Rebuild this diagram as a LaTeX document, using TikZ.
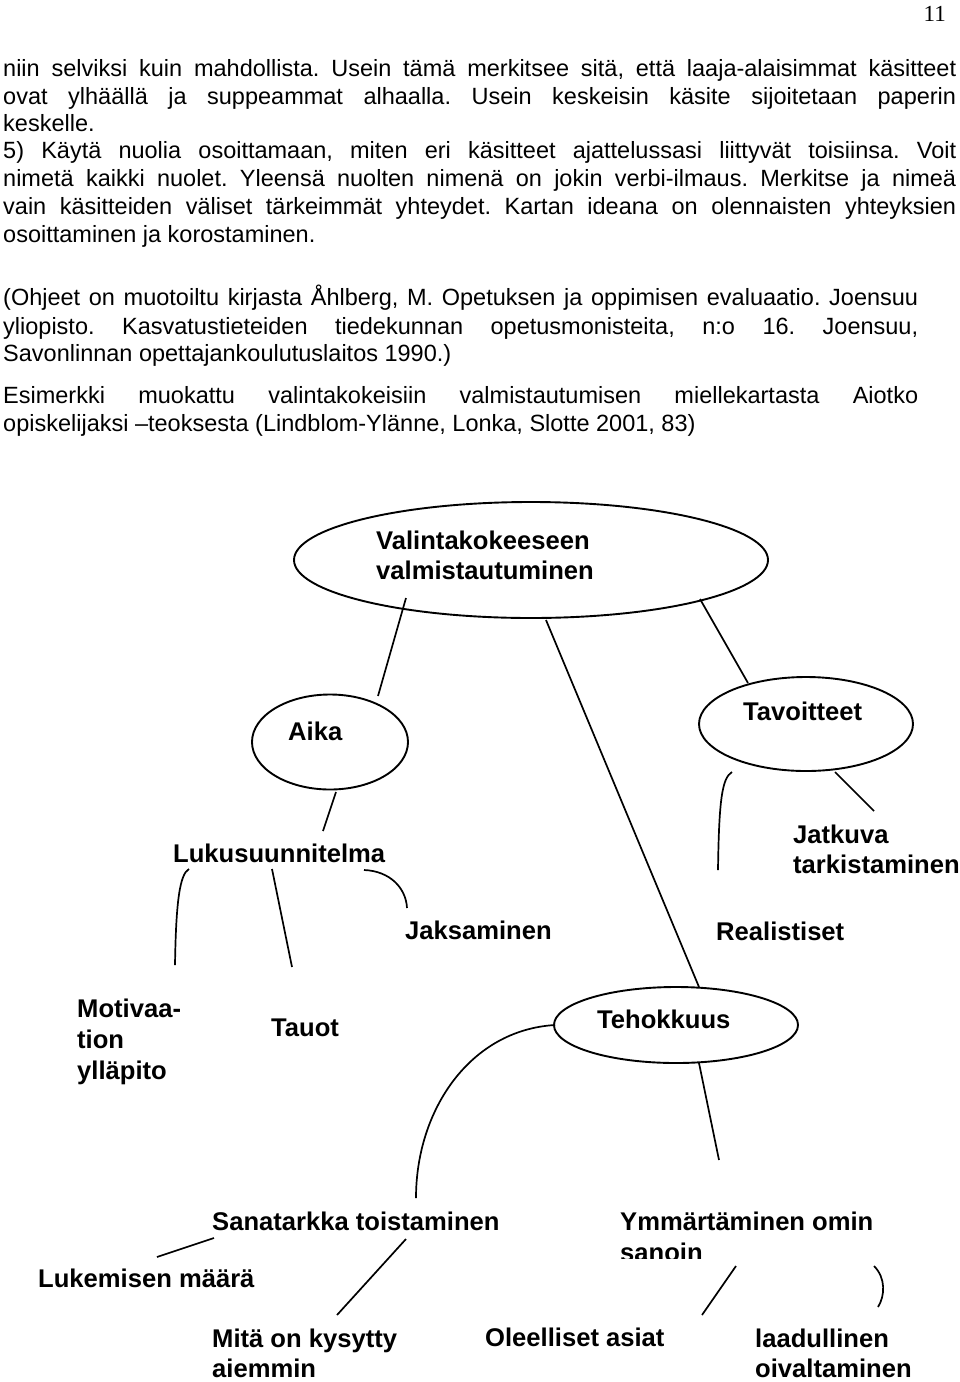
\documentclass[tikz,border=0pt]{standalone}
\usepackage{fontspec}
\setmainfont{Liberation Sans}
\newfontfamily\pgnumfont{Liberation Serif}
\usetikzlibrary{shapes.geometric}
\tikzset{
  body/.style={anchor=base west, inner sep=0pt, font=\fontsize{23.5}{27.7}\selectfont},
  lbl/.style={anchor=base west, inner sep=0pt, font=\fontsize{25.6}{30.5}\selectfont\bfseries},
  ell/.style={draw, ellipse, line width=1.9pt, inner sep=0pt},
  con/.style={line width=1.7pt},
}
\newcommand{\jlinewide}[1]{\makebox[953pt][s]{#1}}
\newcommand{\jline}[1]{\makebox[915pt][s]{#1}}
\frenchspacing
\begin{document}
\frenchspacing
\begin{tikzpicture}[x=1pt,y=-1pt]
\useasboundingbox (0,0) rectangle (960,1382);
% page number
\node[anchor=base east, inner sep=0pt, font=\pgnumfont\fontsize{23}{23}\selectfont] (pg) at (946,21) {11};
% body text
\node[body] (p1) at (3,76.5) {\jlinewide{niin selviksi kuin mahdollista. Usein tämä merkitsee sitä, että laaja-alaisimmat käsitteet}};
\node[body] (p2) at (3,104.2) {\jlinewide{ovat ylhäällä ja suppeammat alhaalla. Usein keskeisin käsite sijoitetaan paperin}};
\node[body] (p3) at (3,131) {keskelle.};
\node[body] (p4) at (3,158.5) {\jlinewide{5) Käytä nuolia osoittamaan, miten eri käsitteet ajattelussasi liittyvät toisiinsa. Voit}};
\node[body] (p5) at (3,186.3) {\jlinewide{nimetä kaikki nuolet. Yleensä nuolten nimenä on jokin verbi-ilmaus. Merkitse ja nimeä}};
\node[body] (p6) at (3,214) {\jlinewide{vain käsitteiden väliset tärkeimmät yhteydet. Kartan ideana on olennaisten yhteyksien}};
\node[body] (p7) at (3,242) {osoittaminen ja korostaminen.};
\node[body] (q1) at (3,305.5) {\jline{(Ohjeet on muotoiltu kirjasta Åhlberg, M. Opetuksen ja oppimisen evaluaatio. Joensuu}};
\node[body] (q2) at (3,334) {\jline{yliopisto. Kasvatustieteiden tiedekunnan opetusmonisteita, n:o 16. Joensuu,}};
\node[body] (q3) at (3,361) {Savonlinnan opettajankoulutuslaitos 1990.)};
\node[body] (r1) at (3,403.5) {\jline{Esimerkki muokattu valintakokeisiin valmistautumisen miellekartasta Aiotko}};
\node[body] (r2) at (3,431) {opiskelijaksi –teoksesta (Lindblom-Ylänne, Lonka, Slotte 2001, 83)};

% ellipses
\node[ell, minimum width=474pt, minimum height=116pt] (main) at (531,560) {};
\node[ell, minimum width=156pt, minimum height=95pt] (aikaE) at (330,742) {};
\node[ell, minimum width=214pt, minimum height=94pt] (tavE) at (806,724) {};
\node[ell, minimum width=244pt, minimum height=76pt] (tehoE) at (676,1025) {};

% labels
\node[lbl] (valA) at (376,549) {Valintakokeeseen};
\node[lbl] (valB) at (376,579) {valmistautuminen};
\node[lbl] (aika) at (288,740) {Aika};
\node[lbl] (tav) at (743,720) {Tavoitteet};
\node[lbl] (jat1) at (793,843) {Jatkuva};
\node[lbl] (jat2) at (793,873) {tarkistaminen};
\node[lbl] (luku) at (173,862) {Lukusuunnitelma};
\node[lbl] (jak) at (405,939) {Jaksaminen};
\node[lbl] (real) at (716,940) {Realistiset};
\node[lbl] (mot1) at (77,1017) {Motivaa-};
\node[lbl] (mot2) at (77,1048) {tion};
\node[lbl] (mot3) at (77,1079) {ylläpito};
\node[lbl] (tauot) at (271,1036) {Tauot};
\node[lbl] (teho) at (597,1028) {Tehokkuus};
\node[lbl] (sana) at (212,1230) {Sanatarkka toistaminen};
\node[lbl] (ymm1) at (620,1230) {Ymmärtäminen omin};
\begin{scope}
  \clip (600,1236) rectangle (900,1258);
  \node[lbl] (ymm2) at (620,1261) {sanoin};
\end{scope}
\node[lbl] (luk) at (38,1287) {Lukemisen määrä};
\node[lbl] (mita1) at (212,1347) {Mitä on kysytty};
\node[lbl] (mita2) at (212,1377) {aiemmin};
\node[lbl] (oleel) at (485,1346) {Oleelliset asiat};
\node[lbl] (laad1) at (755,1347) {laadullinen};
\node[lbl] (laad2) at (755,1377) {oivaltaminen};

% connector end points
\coordinate (mainA) at (406,598);   \coordinate (aikaT) at (378,696);
\coordinate (mainB) at (546,620);   \coordinate (tehoT) at (699,987);
\coordinate (mainC) at (700,599);   \coordinate (tavT) at (748,683);
\coordinate (tavB1) at (835,772);   \coordinate (jatT) at (874,811);
\coordinate (tavB2) at (732,772);   \coordinate (realT) at (718,870);
\coordinate (aikaB) at (336,792);   \coordinate (lukuT) at (323,831);
\coordinate (lukuB1) at (189,869);  \coordinate (motT) at (175,965);
\coordinate (lukuB2) at (272,869);  \coordinate (tauT) at (292,967);
\coordinate (lukuB3) at (364,870);  \coordinate (jakT) at (407,908);
\coordinate (tehoL) at (555,1025);  \coordinate (sanaT) at (416,1198);
\coordinate (tehoB) at (699,1063);  \coordinate (ymmT) at (719,1160);
\coordinate (sanaB1) at (214,1238); \coordinate (lukT) at (157,1257);
\coordinate (sanaB2) at (406,1239); \coordinate (mitaT) at (337,1315);
\coordinate (ymmB1) at (736,1266);  \coordinate (oleT) at (702,1315);
\coordinate (ymmB2) at (874,1266);  \coordinate (laadT) at (878,1307);

% connectors
\draw[con] (mainA) -- (aikaT);
\draw[con] (mainB) -- (tehoT);
\draw[con] (mainC) -- (tavT);
\draw[con] (tavB1) -- (jatT);
\draw[con] (tavB2) .. controls (722,778) and (719,800) .. (realT);
\draw[con] (aikaB) -- (lukuT);
\draw[con] (lukuB1) .. controls (180,874) and (176,900) .. (motT);
\draw[con] (lukuB2) -- (tauT);
\draw[con] (lukuB3) .. controls (390,871) and (406,888) .. (jakT);
\draw[con] (tehoL) .. controls (470,1030) and (416,1110) .. (sanaT);
\draw[con] (tehoB) -- (ymmT);
\draw[con] (sanaB1) -- (lukT);
\draw[con] (sanaB2) -- (mitaT);
\draw[con] (ymmB1) -- (oleT);
\draw[con] (ymmB2) .. controls (886,1278) and (885,1296) .. (laadT);
\end{tikzpicture}
\end{document}
